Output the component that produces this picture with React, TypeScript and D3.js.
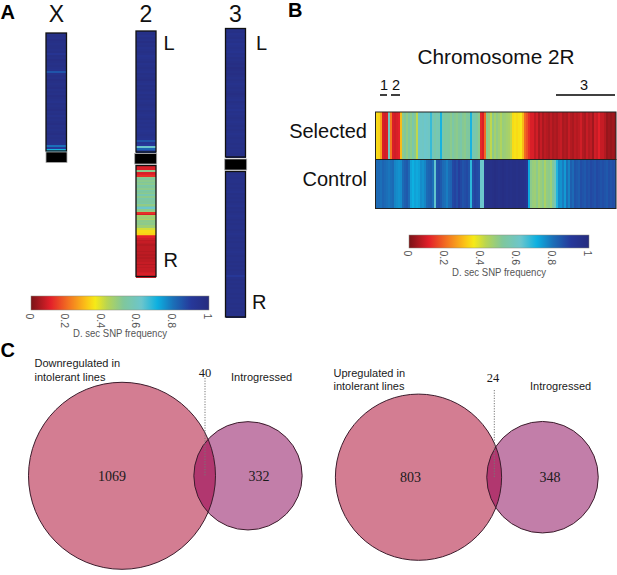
import React from "react";
import * as d3 from "d3";

const W = 617, H = 575;

// colour map of the D. sec SNP frequency
const colourStops = [0, 0.03, 0.11, 0.22, 0.31, 0.36, 0.43, 0.52, 0.62, 0.71, 0.8, 0.9, 1];
const colourValues = ["#7a1418", "#96161c", "#e3202a", "#f47a20", "#fbc317", "#f6ea17", "#b6d455", "#80c79c", "#6cc6cc", "#0db0e0", "#1b6fb8", "#26389a", "#262c7e"];
const colourTicks = [0, 0.2, 0.4, 0.6, 0.8, 1];

// chromosome arms, top to bottom
const chrX = [.96,.97,.96,.98,.97,.96,.97,.97,.96,.97,.93,.97,.96,.98,.97,.96,.97,.96,.95,.85,.95,.97,.96,.98,.97,.96,.97,.98,.96,.97,.96,.98,.97,.96,.95,.97,.96,.97,.98,.96,.97,.95,.97,.96,.97,.98,.96,.97,.96,.97,.98,.96,.97,.96,.96,.95,.8,.9,.7];
const chr2L = [.96,.97,.95,.97,.96,.98,.96,.97,.95,.96,.97,.96,.94,.95,.96,.97,.95,.96,.97,.96,.95,.97,.96,.97,.98,.96,.95,.97,.96,.97,.96,.95,.97,.96,.97,.95,.96,.97,.96,.95,.97,.96,.95,.96,.97,.95,.96,.95,.96,.95,.94,.95,.96,.95,.94,.85,.93,.9,.62,.82,.88];
const chr2R = [.09,.1,.1,.5,.1,.11,.13,.5,.52,.5,.52,.5,.55,.52,.5,.55,.52,.5,.56,.5,.55,.53,.52,.55,.49,.53,.62,.5,.48,.13,.1,.46,.47,.45,.5,.49,.5,.47,.47,.4,.34,.34,.33,.16,.11,.09,.07,.08,.07,.06,.07,.07,.07,.06,.07,.06,.07,.06,.07,.07,.08,.06,.08,.07,.08,.08,.09,.1,.09];
const chr3L = [.96,.97,.95,.96,.97,.95,.96,.94,.95,.96,.95,.94,.96,.95,.97,.96,.97,.98,.97,.99,.98,.97,.98,.97,.96,.97,.96,.95,.96,.97,.96,.97,.98,.97,.96,.95,.97,.96,.95,.96,.94,.96,.95,.96,.97,.96,.95,.96,.97,.96,.97,.96,.95,.96,.97,.96,.96,.97,.96,.97,.96,.96,.97,.96];
const chr3R = [.96,.97,.96,.97,.96,.96,.97,.96,.97,.96,.95,.97,.96,.97,.96,.97,.96,.95,.97,.96,.97,.96,.95,.96,.97,.96,.97,.96,.96,.97,.96,.95,.96,.97,.96,.97,.96,.96,.97,.96,.95,.96,.97,.96,.96,.97,.96,.97,.96,.97,.96,.96,.91,.96,.97,.96,.97,.96,.97,.96,.96,.97,.96,.97,.96,.96,.97,.96,.97,.96,.97,.96,.96];

// chromosome 2R, left to right
const selectedRow = [.34,.33,.27,.1,.09,.1,.6,.22,.1,.09,.1,.11,.3,.5,.52,.49,.53,.5,.55,.51,.42,.6,.61,.6,.62,.61,.6,.67,.58,.55,.57,.56,.7,.55,.52,.53,.52,.5,.54,.51,.5,.52,.55,.51,.5,.53,.52,.7,.56,.55,.53,.5,.12,.1,.2,.5,.48,.42,.5,.46,.49,.47,.44,.48,.47,.46,.45,.42,.34,.35,.34,.35,.36,.3,.2,.17,.13,.1,.1,.07,.09,.05,.08,.05,.07,.06,.05,.07,.05,.06,.05,.07,.08,.05,.06,.05,.08,.06,.05,.07,.06,.07,.09,.06,.05,.08,.06,.07,.04,.09,.08,.11,.08,.08,.06,.03,.04,.03,.04,.03];
const controlRow = [.81,.81,.8,.82,.81,.8,.79,.8,.81,.77,.76,.75,.76,.81,.83,.84,.81,.73,.71,.73,.72,.73,.76,.75,.77,.81,.82,.83,.8,.63,.85,.86,.84,.81,.8,.78,.81,.82,.87,.88,.86,.89,.87,.85,.86,.87,.85,.68,.86,.88,.87,.86,.62,.62,.96,.97,.97,.96,.97,.98,.97,.96,.97,.98,.97,.96,.97,.96,.97,.97,.96,.97,.96,.96,.95,.92,.72,.5,.48,.47,.5,.46,.48,.5,.45,.49,.5,.47,.52,.58,.69,.76,.75,.78,.74,.8,.77,.83,.81,.85,.84,.83,.86,.85,.84,.86,.85,.87,.86,.85,.87,.86,.85,.86,.85,.84,.86,.85,.86,.85];
const rowNames = ["Selected", "Control"];

// Venn counts: [only A, shared, only B]
const downVenn = [1069, 40, 332];
const upVenn = [803, 24, 348];

const colour = d3.scaleLinear<string>().domain(colourStops).range(colourValues).interpolate(d3.interpolateRgb);
const frac = d3.range(0, 1.0001, 1 / 180);

function Strip({ x, y, w, h, values, stroke = "#111" }: any) {
  const band = d3.scaleBand<number>().domain(d3.range(values.length)).range([y, y + h]);
  return (
    <g>
      {values.map((v: number, i: number) => (
        <rect key={i} x={x} y={band(i)} width={w} height={band.bandwidth() + 1} fill={colour(v)} shapeRendering="crispEdges" />
      ))}
      <rect x={x} y={y} width={w} height={h} fill="none" stroke={stroke} strokeWidth={1.3} />
    </g>
  );
}

function HRow({ x, y, w, h, values }: any) {
  const band = d3.scaleBand<number>().domain(d3.range(values.length)).range([x, x + w]);
  return (
    <g>
      {values.map((v: number, i: number) => (
        <rect key={i} x={band(i)} y={y} width={i === values.length - 1 ? band.bandwidth() : band.bandwidth() + 1} height={h} fill={colour(v)} shapeRendering="crispEdges" />
      ))}
    </g>
  );
}

function Cut({ x, y, w, h }: any) {
  return <rect x={x} y={y} width={w} height={h} fill="#000" stroke="#aaa" strokeWidth={0.8} />;
}

function ColourBar({ x, y, w, h, labelY, titleX, titleY, id }: any) {
  const sx = d3.scaleLinear().domain([0, 1]).range([x, x + w]);
  return (
    <g>
      <defs>
        <linearGradient id={id}>
          {frac.map((f) => <stop key={f} offset={f} stopColor={colour(f)} />)}
        </linearGradient>
      </defs>
      <rect x={x} y={y} width={w} height={h} fill={`url(#${id})`} stroke="#8a8a80" strokeWidth={0.5} />
      {colourTicks.map((t) => (
        <text key={t} transform={`translate(${sx(t) - 5.5},${labelY}) rotate(90)`} fontSize={10.5} fill="#555" fontFamily="Liberation Sans">{t}</text>
      ))}
      <text x={titleX} y={titleY} textAnchor="middle" fontSize={11} textLength={94} lengthAdjust="spacingAndGlyphs" fill="#555" fontFamily="Liberation Sans">D. sec SNP frequency</text>
    </g>
  );
}

function Venn({ counts, cxA, cxB, cy, scaleK, id, lineX, lineTop, labelX, labelY, textAx, textBx, numY }: any) {
  const [a, s, b] = counts;
  const r = d3.scaleSqrt().domain([0, a + s]).range([0, scaleK * Math.sqrt(a + s)]);
  const ra = r(a + s), rb = r(b + s + 0);
  const edge = "#3c1c2c";
  return (
    <g>
      <defs>
        <clipPath id={id}><circle cx={cxA} cy={cy} r={ra} /></clipPath>
      </defs>
      <circle cx={cxA} cy={cy} r={ra} fill="#d37d92" />
      <circle cx={cxB} cy={cy} r={rb} fill="#c27ea9" />
      <circle cx={cxB} cy={cy} r={rb} fill="#b1376f" clipPath={`url(#${id})`} />
      <circle cx={cxA} cy={cy} r={ra} fill="none" stroke={edge} strokeWidth={1} />
      <circle cx={cxB} cy={cy} r={rb} fill="none" stroke={edge} strokeWidth={1} />
      <line x1={lineX} x2={lineX} y1={lineTop} y2={cy + 1} stroke="#777" strokeWidth={1} strokeDasharray="1.2 1.4" />
      <g fontFamily="Liberation Serif" fill="#1a1a1a" textAnchor="middle">
        <text x={labelX} y={labelY} fontSize={12.5}>{s}</text>
        <text x={textAx} y={numY} fontSize={14}>{a}</text>
        <text x={textBx} y={numY} fontSize={14}>{b}</text>
      </g>
    </g>
  );
}

export default function App() {
  const sans = "Liberation Sans";
  return (
    <svg width={W} height={H} viewBox={`0 0 ${W} ${H}`} style={{ position: "absolute", left: 0, top: 0, background: "#fff" }}>
      <g fontFamily={sans} fontWeight="bold" fontSize={20} fill="#000">
        <text x={0.5} y={19}>A</text>
        <text x={288} y={17}>B</text>
        <text x={0.5} y={357}>C</text>
      </g>

      {/* Panel A */}
      <g fontFamily={sans} fill="#111" textAnchor="middle" fontSize={23}>
        <text x={56.5} y={22}>X</text>
        <text x={146} y={22}>2</text>
        <text x={235.5} y={22}>3</text>
      </g>
      <Strip x={46} y={33} w={20.5} h={118} values={chrX} />
      <Cut x={46} y={152} w={21} h={10.5} />
      <Strip x={136} y={31} w={20} h={121} values={chr2L} />
      <Cut x={134.7} y={153.5} w={22} h={10.5} />
      <Strip x={136} y={165.5} w={20} h={111} values={chr2R} />
      <Strip x={225.5} y={28.5} w={20} h={128.5} values={chr3L} />
      <Cut x={224.7} y={159} w={22} h={11} />
      <Strip x={225.5} y={171.5} w={20} h={145.5} values={chr3R} />
      <g fontFamily={sans} fill="#111" fontSize={20}>
        <text x={163.5} y={50}>L</text>
        <text x={256} y={50}>L</text>
        <text x={163.5} y={267}>R</text>
        <text x={252} y={309}>R</text>
      </g>
      <ColourBar id="barA" x={31} y={296} w={178} h={14} labelY={313.5} titleX={120} titleY={337} />

      {/* Panel B */}
      <text x={496} y={63.5} textAnchor="middle" fontFamily={sans} fontSize={20.8} fill="#111">Chromosome 2R</text>
      <g fontFamily={sans} fontSize={14.5} fill="#111" textAnchor="middle">
        <text x={384} y={90}>1</text>
        <text x={396} y={90}>2</text>
        <text x={584} y={90}>3</text>
      </g>
      <g stroke="#000" strokeWidth={1.5}>
        <line x1={380} x2={387} y1={95} y2={95} />
        <line x1={391} x2={400} y1={95} y2={95} />
        <line x1={556} x2={615} y1={95} y2={95} />
      </g>
      <HRow x={375.5} y={112} w={240.5} h={47.5} values={selectedRow} />
      <HRow x={375.5} y={159.5} w={240.5} h={49} values={controlRow} />
      <rect x={375.5} y={112} width={240.5} height={47.5} fill="none" stroke="#222" strokeWidth={1} />
      <rect x={375.5} y={159.5} width={240.5} height={49} fill="none" stroke="#222" strokeWidth={1} />
      <g fontFamily={sans} fontSize={20} fill="#111" textAnchor="end">
        <text x={367} y={138}>{rowNames[0]}</text>
        <text x={367} y={186}>{rowNames[1]}</text>
      </g>
      <ColourBar id="barB" x={409} y={235} w={180} h={13} labelY={250.5} titleX={499} titleY={276} />

      {/* Panel C */}
      <Venn id="vennA" counts={downVenn} cxA={122} cxB={248} cy={475.8} scaleK={2.808} lineX={205} lineTop={378} labelX={205} labelY={376.5} textAx={112} textBx={259} numY={480.5} />
      <Venn id="vennB" counts={upVenn} cxA={418.5} cxB={542.5} cy={477.2} scaleK={2.89} lineX={494.3} lineTop={390} labelX={493} labelY={382} textAx={410.5} textBx={550} numY={481.5} />
      <g fontFamily={sans} fontSize={11} fill="#1a1a1a">
        <text x={34.5} y={367}>Downregulated in</text>
        <text x={34.5} y={380.5}>intolerant lines</text>
        <text x={231} y={380.5}>Introgressed</text>
        <text x={333.5} y={376.5}>Upregulated in</text>
        <text x={333.5} y={390}>intolerant lines</text>
        <text x={530} y={390}>Introgressed</text>
      </g>
    </svg>
  );
}
